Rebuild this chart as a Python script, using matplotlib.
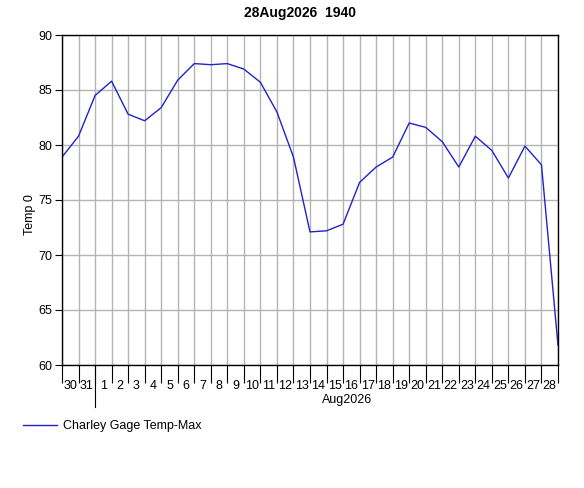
import numpy as np
import matplotlib
matplotlib.use('Agg')
import matplotlib.pyplot as plt
from matplotlib.ticker import FixedLocator, NullFormatter

# daily max temperature, one value per midnight from 30 Jul to 29 Aug
day_labels = ['30', '31'] + [str(d) for d in range(1, 29)]
temp_max = [78.9, 80.8, 84.5, 85.8, 82.8, 82.2, 83.4, 85.9, 87.4, 87.3,
            87.4, 86.9, 85.7, 83.0, 78.9, 72.1, 72.2, 72.8, 76.6, 78.0,
            78.9, 82.0, 81.6, 80.3, 78.0, 80.8, 79.5, 77.0, 79.9, 78.2,
            61.8]
month_label = 'Aug2026'
month_start = 2   # index of 1 Aug
title = '28Aug2026  1940'
series_name = 'Charley Gage Temp-Max'

plt.rcParams['font.family'] = ['Liberation Sans', 'DejaVu Sans']
plt.rcParams['font.size'] = 9

fig = plt.figure(figsize=(5.84, 4.88), dpi=100)
ax = fig.add_axes([62/584, 1-365/488, 496/584, 330/488])

x = np.arange(len(temp_max))
ln, = ax.plot(x, temp_max, color='#2222cc', lw=1.0)

ax.set_xlim(0, len(day_labels))
ax.set_ylim(60, 90)
ax.set_yticks(np.arange(60, 91, 5))

ax.xaxis.set_major_locator(FixedLocator(np.arange(len(day_labels)+1)))
ax.xaxis.set_major_formatter(NullFormatter())
ax.xaxis.set_minor_locator(FixedLocator(np.arange(len(day_labels)) + 0.5))
ax.set_xticklabels(day_labels, minor=True)
ax.tick_params(axis='x', which='major', length=13, width=0.8, color='black')
ax.tick_params(axis='x', which='minor', length=0, pad=11, labelsize=9)
ax.tick_params(axis='y', length=5, width=0.8, pad=2, labelsize=9)

ax.grid(True, which='major', color='#b4b4b4', lw=1.0)
ax.set_axisbelow(True)
for s in ax.spines.values():
    s.set_color('black')
    s.set_linewidth(1.0)

# month boundary marker and label
trans = matplotlib.transforms.blended_transform_factory(ax.transData, fig.transFigure)
ax.plot([month_start, month_start], [1-365/488, 1-407/488], color='black',
        lw=0.8, transform=trans, clip_on=False)
fig.text(347/584, 1-400/488, month_label, ha='center', va='center', fontsize=9)

fig.text(300/584, 1-13/488, title, ha='center', va='center',
         fontsize=10, fontweight='bold')
fig.text(30/584, 1-215/488, 'Temp 0', rotation=90, ha='center', va='center', fontsize=9)

fig.legend([ln], [series_name], loc='upper left', bbox_to_anchor=(18/584, 1-415/488),
           frameon=False, handlelength=2.7, handletextpad=0.5, fontsize=9,
           borderaxespad=0)

fig.savefig('out.png', dpi=100)
